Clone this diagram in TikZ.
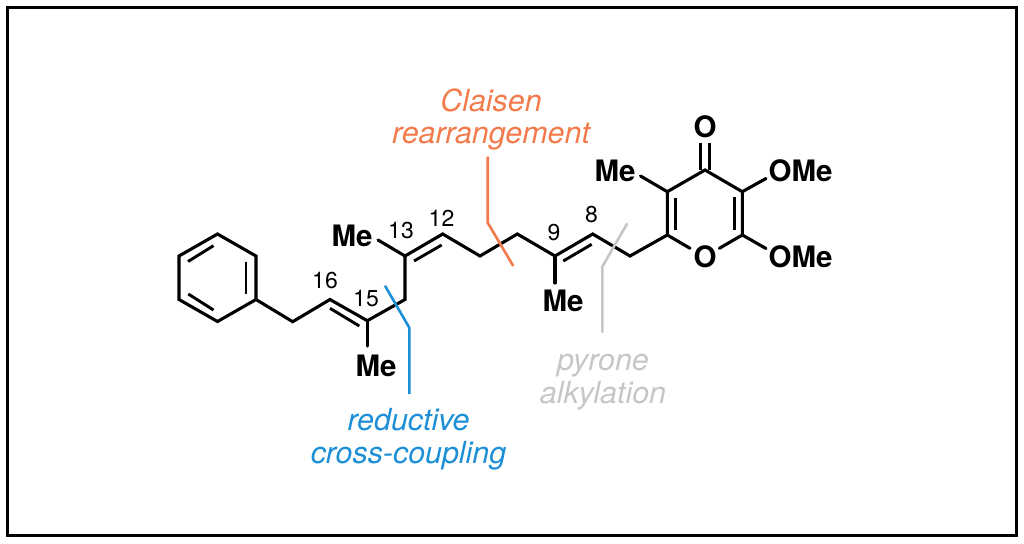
\documentclass[tikz,border=0pt]{standalone}
\usepackage{fontspec}
\setmainfont{TeX Gyre Heros}
\definecolor{claisen}{HTML}{F27A4B}
\definecolor{reductive}{HTML}{1C8FD6}
\definecolor{pyrone}{HTML}{C6C6C6}
\tikzset{
  x=1pt,y=-1pt,
  bond/.style={line width=3.1pt,line join=miter,line cap=round,black},
  dbl/.style={line width=2.9pt,line cap=butt,black},
  atom/.style={inner sep=0pt,font=\fontsize{29.5}{30}\selectfont\bfseries},
  num/.style={inner sep=0pt,font=\fontsize{23}{24}\selectfont},
  tag/.style={inner sep=0pt,align=center,font=\fontsize{30.4}{32.5}\selectfont\itshape},
  cut/.style={line width=2.6pt,line join=miter}
}
\begin{document}
\begin{tikzpicture}
\useasboundingbox (0,0) rectangle (1024,543);
\draw[line width=3.4pt] (7.7,7.7) rectangle (1016.5,535.5);
% atoms
\coordinate (b1) at (217.5,234);
\coordinate (b2) at (256,256);
\coordinate (b3) at (256,299.5);
\coordinate (b4) at (217.5,321.5);
\coordinate (b5) at (179,299.5);
\coordinate (b6) at (179,256);
\coordinate (c17) at (292.7,321.7);
\coordinate (c16) at (330,299.5);
\coordinate (c15) at (367.3,320.7);
\coordinate (c14) at (405,299.5);
\coordinate (c13) at (405,256);
\coordinate (c12) at (442.7,234);
\coordinate (c11) at (480,256);
\coordinate (c10) at (517.3,234);
\coordinate (c9) at (555,256);
\coordinate (c8) at (592.7,234);
\coordinate (c7) at (630,256);
\coordinate (p2) at (667.3,235);
\coordinate (p3) at (667.3,191.7);
\coordinate (p4) at (705,170);
\coordinate (p5) at (742.3,191.7);
\coordinate (p6) at (742.3,235);
\node[atom] (O1) at (705,257) {O};
\node[atom] (O2) at (705,126.5) {O};
\node[atom] (Me1) at (352,236) {Me};
\node[atom] (Me2) at (376,366) {Me};
\node[atom] (Me3) at (563,301) {Me};
\node[atom] (Me4) at (615,171) {Me};
\node[atom] (OMe1) at (800.5,171) {OMe};
\node[atom] (OMe2) at (800.5,257) {OMe};
% skeleton
\draw[bond] (b1)--(b2)--(b3)--(b4)--(b5)--(b6)--cycle;
\draw[bond] (b3)--(c17)--(c16)--(c15)--(c14)--(c13)--(c12)--(c11)--(c10)--(c9)--(c8)--(c7)--(p2)--(p3)--(p4)--(p5)--(p6);
\draw[bond] (p2)--(690,248.3);
\draw[bond] (p6)--(719.3,248.3);
\draw[bond] (c15)--(367.3,346);
\draw[bond] (c9)--(555,283);
\draw[bond] (c13)--(378,240);
\draw[bond] (p3)--(640.5,176);
\draw[bond] (p5)--(766,178.5);
\draw[bond] (p6)--(766,248.5);
\draw[dbl] (700.3,170)--(700.3,143);
\draw[dbl] (709.5,170)--(709.5,143);
% inner double bonds
\draw[dbl] (246,261.7)--(246,293.5);
\draw[dbl] (188,261.5)--(213.5,245.7);
\draw[dbl] (188.3,294)--(213.5,310);
\draw[dbl] (330,308.3)--(359.3,326);
\draw[dbl] (414,261)--(441.7,245);
\draw[dbl] (563.3,261)--(591.7,244.3);
\draw[dbl] (675.7,197.5)--(675.7,230);
\draw[dbl] (734.3,197)--(734.3,230);
% numbers
\node[num] (n16) at (325,281) {16};
\node[num] (n15) at (366,299) {15};
\node[num] (n13) at (401,231) {13};
\node[num] (n12) at (441.5,218.5) {12};
\node[num] (n9) at (554,233) {9};
\node[num] (n8) at (591.5,215) {8};
% retro cuts
\coordinate (bl1) at (385,285.7);
\coordinate (bl2) at (409.3,327.7);
\coordinate (bl3) at (409.3,394);
\coordinate (or1) at (487.7,156.7);
\coordinate (or2) at (487.7,222.7);
\coordinate (or3) at (513.3,266);
\coordinate (gr1) at (602.3,332.7);
\coordinate (gr2) at (602.3,266.7);
\coordinate (gr3) at (627.3,223.3);
\draw[cut,reductive] (bl1)--(bl2)--(bl3);
\draw[cut,claisen] (or1)--(or2)--(or3);
\draw[cut,pyrone] (gr1)--(gr2)--(gr3);
\node[tag,text=claisen] (tClaisen) at (491,119.5) {Claisen\\rearrangement};
\node[tag,text=reductive] (tRed) at (408.5,439) {reductive\\cross-coupling};
\node[tag,text=pyrone] (tPyr) at (603,382) {pyrone\\alkylation};
\end{tikzpicture}
\end{document}
